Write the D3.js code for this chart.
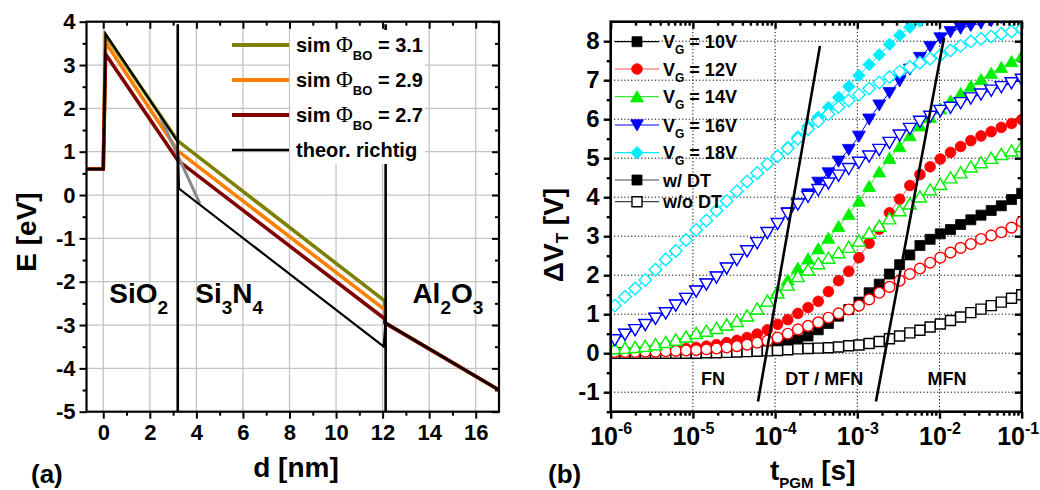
<!DOCTYPE html>
<html><head><meta charset="utf-8">
<script src="https://cdn.jsdelivr.net/npm/d3@7"></script>
<style>
body{margin:0;background:#fff}
svg{display:block}
text{font-family:"Liberation Sans",Arial,sans-serif;font-weight:bold;fill:#000}
</style>
</head><body>
<svg id="c" width="1040" height="490"></svg>
<script>
// ================= Panel (a) data =================
const aXTicks = [0, 2, 4, 6, 8, 10, 12, 14, 16];
const aYTicks = [-5, -4, -3, -2, -1, 0, 1, 2, 3, 4];
const aSimD   = [-0.72, 0, 0.1, 3.2, 12.1, 12.1, 17];
const aSim31  = [0.6, 0.6, 3.68, 1.25, -2.45, -2.95, -4.5];
const aSim29  = [0.6, 0.6, 3.52, 1.02, -2.65, -2.95, -4.5];
const aSim27  = [0.6, 0.6, 3.25, 0.80, -2.86, -2.95, -4.5];
const aTheoD  = [-0.72, 0, 0.1, 3.2, 3.25, 12.05, 12.12, 17];
const aTheoE  = [0.6, 0.6, 3.72, 1.23, 0.15, -3.5, -2.95, -4.5];
const aGreyD  = [2.45, 4.15];
const aGreyE  = [1.8, -0.2];
const aInterfaces = [3.2, 12.13];
const aLegendVals = ["3.1", "2.9", "2.7"];

// ================= Panel (b) data =================
const bXTickExp = [-6, -5, -4, -3, -2, -1];
const bYTicks = [-1, 0, 1, 2, 3, 4, 5, 6, 7, 8];
const bLogT = [-5.95,-5.826,-5.703,-5.579,-5.455,-5.331,-5.208,-5.084,-4.96,-4.836,-4.713,-4.589,-4.465,-4.341,-4.218,-4.094,-3.97,-3.846,-3.723,-3.599,-3.475,-3.351,-3.228,-3.104,-2.98,-2.856,-2.733,-2.609,-2.485,-2.361,-2.238,-2.114,-1.99,-1.866,-1.743,-1.619,-1.495,-1.371,-1.248,-1.124,-1.0];
const v10w = [0.01,0.01,0.01,0.01,0.02,0.02,0.02,0.03,0.03,0.04,0.05,0.06,0.08,0.10,0.13,0.17,0.21,0.26,0.34,0.44,0.60,0.76,0.95,1.12,1.31,1.55,1.77,2.03,2.27,2.52,2.76,2.92,3.06,3.17,3.30,3.42,3.54,3.66,3.78,3.94,4.10];
const v10o = [0,0,0,0,0,0,0,0,0,0.01,0.01,0.02,0.03,0.04,0.05,0.06,0.07,0.09,0.11,0.12,0.13,0.14,0.16,0.19,0.21,0.25,0.30,0.37,0.44,0.52,0.59,0.67,0.75,0.84,0.93,1.04,1.13,1.22,1.31,1.41,1.50];
const v12w = [0.04,0.05,0.05,0.06,0.07,0.08,0.10,0.12,0.15,0.18,0.22,0.27,0.33,0.40,0.49,0.60,0.74,0.86,1.02,1.17,1.33,1.58,1.86,2.10,2.45,2.82,3.18,3.60,3.95,4.30,4.58,4.78,4.98,5.15,5.30,5.45,5.57,5.68,5.79,5.89,5.99];
const v12o = [0.03,0.03,0.03,0.04,0.04,0.05,0.06,0.07,0.08,0.10,0.12,0.15,0.18,0.22,0.27,0.32,0.40,0.50,0.61,0.70,0.79,0.91,1.02,1.12,1.22,1.38,1.55,1.70,1.86,2.03,2.17,2.32,2.45,2.58,2.70,2.80,2.93,3.02,3.10,3.22,3.37];
const v14w = [0.12,0.13,0.15,0.18,0.22,0.28,0.34,0.42,0.51,0.57,0.64,0.73,0.82,0.96,1.14,1.34,1.60,1.88,2.18,2.42,2.68,2.95,3.25,3.56,3.90,4.28,4.65,5.00,5.30,5.58,5.83,6.05,6.27,6.47,6.66,6.85,7.02,7.18,7.33,7.48,7.62];
const v14o = [0.12,0.13,0.15,0.18,0.22,0.28,0.34,0.42,0.51,0.57,0.64,0.73,0.82,0.96,1.14,1.34,1.55,1.75,1.97,2.14,2.30,2.44,2.58,2.72,2.88,3.08,3.26,3.45,3.66,3.83,4.01,4.19,4.33,4.50,4.63,4.78,4.89,5.00,5.10,5.19,5.30];
const v16w = [0.34,0.48,0.60,0.73,0.89,1.03,1.23,1.40,1.59,1.77,1.95,2.18,2.40,2.62,2.83,3.09,3.32,3.60,3.82,4.08,4.38,4.62,4.92,5.22,5.56,6.00,6.36,6.68,6.98,7.28,7.58,7.86,8.08,8.24,8.33,8.40,8.46,8.52,8.60,null,null];
const v16o = [0.34,0.48,0.60,0.73,0.89,1.03,1.23,1.40,1.59,1.77,1.95,2.18,2.40,2.62,2.83,3.09,3.32,3.58,3.82,4.02,4.19,4.36,4.56,4.73,4.89,5.05,5.22,5.40,5.59,5.76,5.94,6.07,6.22,6.30,6.42,6.54,6.64,6.74,6.83,6.93,7.02];
const v18w = [1.22,1.45,1.66,1.88,2.14,2.40,2.62,2.90,3.16,3.40,3.66,3.90,4.15,4.40,4.62,4.85,5.05,5.28,5.55,5.82,6.05,6.30,6.56,6.84,7.12,7.40,7.65,7.92,8.15,8.36,8.52,8.66,null,null,null,null,null,null,null,null,null];
const v18o = [1.22,1.45,1.66,1.88,2.14,2.40,2.62,2.90,3.16,3.40,3.66,3.90,4.15,4.40,4.62,4.85,5.05,5.25,5.50,5.75,5.95,6.13,6.31,6.48,6.63,6.79,6.94,7.08,7.22,7.34,7.45,7.55,7.64,7.76,7.88,7.99,8.06,8.12,8.19,8.25,8.31];
const bLegendLabels = ["10V", "12V", "14V", "16V", "18V"];
const bBoundary1 = [[-4.208, -1.24], [-3.454, 7.88]];
const bBoundary2 = [[-2.773, -1.24], [-1.945, 8.09]];
const bRegions = [["FN", -4.755], ["DT / MFN", -3.403], ["MFN", -1.91]];

// ================= drawing =================
const svg = d3.select('#c');
const FONT = '"Liberation Sans",Arial,sans-serif';

function styleAxis(g, fs, sw) {
  g.attr('font-family', FONT).attr('font-size', fs);
  g.select('.domain').remove();
  g.selectAll('line').attr('stroke', '#000').attr('stroke-width', sw);
  g.selectAll('text').attr('font-weight', 'bold').attr('fill', '#000');
}

// ---------- Panel A ----------
const A = {l: 86.5, r: 499, t: 21.7, b: 411.7};
const xA = d3.scaleLinear().domain([-0.72, 17]).range([A.l, A.r]);
const yA = d3.scaleLinear().domain([-5, 4]).range([A.b, A.t]);
const gA = svg.append('g');

// grid
gA.append('g').selectAll('line').data(aXTicks).join('line')
  .attr('x1', d => xA(d)).attr('x2', d => xA(d)).attr('y1', A.t).attr('y2', A.b)
  .attr('stroke', '#c4c4c4').attr('stroke-width', 1.3);
gA.append('g').selectAll('line').data(aYTicks.filter(d => d > -5 && d < 4)).join('line')
  .attr('y1', d => yA(d)).attr('y2', d => yA(d)).attr('x1', A.l).attr('x2', A.r)
  .attr('stroke', '#c4c4c4').attr('stroke-width', 1.3);

const xMinorA = d3.range(-0, 17, 1).filter(d => d % 2 !== 0);
const yMinorA = d3.range(-4.5, 4, 1);

// axes
const axB = gA.append('g').attr('transform', `translate(0,${A.b})`)
  .call(d3.axisBottom(xA).tickValues(aXTicks).tickSize(7).tickPadding(6).tickFormat(d => d));
styleAxis(axB, 22, 2);
const axBm = gA.append('g').attr('transform', `translate(0,${A.b})`)
  .call(d3.axisBottom(xA).tickValues(xMinorA).tickSize(4).tickFormat(''));
styleAxis(axBm, 22, 2);
const axT = gA.append('g').attr('transform', `translate(0,${A.t})`)
  .call(d3.axisTop(xA).tickValues(aXTicks).tickSize(-7).tickFormat(''));
styleAxis(axT, 22, 2);
const axTm = gA.append('g').attr('transform', `translate(0,${A.t})`)
  .call(d3.axisTop(xA).tickValues(xMinorA).tickSize(-4).tickFormat(''));
styleAxis(axTm, 22, 2);
const axL = gA.append('g').attr('transform', `translate(${A.l},0)`)
  .call(d3.axisLeft(yA).tickValues(aYTicks).tickSize(7).tickPadding(4).tickFormat(d => String(d)));
styleAxis(axL, 22, 2);
const axLm = gA.append('g').attr('transform', `translate(${A.l},0)`)
  .call(d3.axisLeft(yA).tickValues(yMinorA).tickSize(4).tickFormat(''));
styleAxis(axLm, 22, 2);
const axR = gA.append('g').attr('transform', `translate(${A.r},0)`)
  .call(d3.axisRight(yA).tickValues(aYTicks).tickSize(-7).tickFormat(''));
styleAxis(axR, 22, 2);
const axRm = gA.append('g').attr('transform', `translate(${A.r},0)`)
  .call(d3.axisRight(yA).tickValues(yMinorA).tickSize(-4).tickFormat(''));
styleAxis(axRm, 22, 2);

// layer labels
function subLabel(g, x, y, parts, fs, sfs, sdy) {
  const t = g.append('text').attr('x', x).attr('y', y).attr('font-size', fs);
  let down = false;
  parts.forEach((p, i) => {
    const isSub = i % 2 === 1;
    const ts = t.append('tspan').text(p);
    if (isSub) { ts.attr('font-size', sfs).attr('dy', sdy); down = true; }
    else if (down) { ts.attr('dy', -sdy); down = false; }
  });
  return t;
}
subLabel(gA, xA(0.26), yA(-2.49), ['SiO', '2'], 28, 19, 11);
subLabel(gA, xA(3.95), yA(-2.49), ['Si', '3', 'N', '4'], 28, 19, 11);
subLabel(gA, xA(13.28), yA(-2.49), ['Al', '2', 'O', '3'], 28, 19, 11);

// data lines
const lineA = d3.line().x(d => xA(d[0])).y(d => yA(d[1]));
const simSeries = [[aSim27, '#800000'], [aSim29, '#ff8000'], [aSim31, '#808000']];
simSeries.slice().reverse().forEach(([vals, col]) => {
  gA.append('path').attr('d', lineA(aSimD.map((d, i) => [d, vals[i]])))
    .attr('fill', 'none').attr('stroke', col).attr('stroke-width', 3.6).attr('stroke-linejoin', 'miter');
});
gA.append('path').attr('d', lineA(aGreyD.map((d, i) => [d, aGreyE[i]])))
  .attr('fill', 'none').attr('stroke', '#8a8a8a').attr('stroke-width', 3);
gA.append('path').attr('d', lineA(aTheoD.map((d, i) => [d, aTheoE[i]])))
  .attr('fill', 'none').attr('stroke', '#000').attr('stroke-width', 2.2);
// interface lines
gA.append('g').selectAll('line').data(aInterfaces).join('line')
  .attr('x1', d => xA(d)).attr('x2', d => xA(d)).attr('y1', yA(3.94)).attr('y2', A.b)
  .attr('stroke', '#000').attr('stroke-width', 2.6);

// legend A
gA.append('rect').attr('x', 290).attr('y', 30).attr('width', 135).attr('height', 134).attr('fill', '#fff');
const legRowsA = [45, 80, 115, 150];
const legColsA = ['#808000', '#ff8000', '#800000', '#000'];
legRowsA.forEach((ry, i) => {
  gA.append('line').attr('x1', 232).attr('x2', 289).attr('y1', ry).attr('y2', ry)
    .attr('stroke', legColsA[i]).attr('stroke-width', i < 3 ? 4 : 2.5);
  const t = gA.append('text').attr('x', 296).attr('y', ry + 7).attr('font-size', 20);
  if (i < 3) {
    t.append('tspan').text('sim ');
    t.append('tspan').attr('font-family', '"Liberation Serif","Times New Roman",serif').attr('font-weight', 'normal').attr('font-size', 23).text('Φ');
    t.append('tspan').attr('font-size', 13).attr('dy', 8).text('BO');
    t.append('tspan').attr('dy', -8).text(' = ' + aLegendVals[i]);
  } else {
    t.text('theor. richtig');
  }
});

// frame A
gA.append('rect').attr('x', A.l).attr('y', A.t).attr('width', A.r - A.l).attr('height', A.b - A.t)
  .attr('fill', 'none').attr('stroke', '#000').attr('stroke-width', 2.2);

// titles A
svg.append('text').attr('x', 296).attr('y', 477).attr('text-anchor', 'middle').attr('font-size', 28).text('d [nm]');
svg.append('text').attr('transform', 'translate(36,232) rotate(-90)').attr('text-anchor', 'middle').attr('font-size', 28).text('E [eV]');
svg.append('text').attr('x', 31).attr('y', 483).attr('font-size', 26).text('(a)');

// ---------- Panel B ----------
const B = {l: 610.7, r: 1021.7, t: 21.7, b: 411.7};
const xB = d3.scaleLog().domain([1e-6, 1e-1]).range([B.l, B.r]);
const yB = d3.scaleLinear().domain([-1.5, 8.5]).range([B.b, B.t]);
const gB = svg.append('g');
const bMajor = bXTickExp.map(e => Math.pow(10, e));
const bMinor = [];
bXTickExp.slice(0, -1).forEach(e => { for (let m = 2; m <= 9; m++) bMinor.push(m * Math.pow(10, e)); });
const yMinorB = d3.range(-1.5, 8.5, 1);

// dotted grid
gB.append('g').selectAll('line').data(bMajor.slice(1, -1)).join('line')
  .attr('x1', d => xB(d)).attr('x2', d => xB(d)).attr('y1', B.t).attr('y2', B.b)
  .attr('stroke', '#000').attr('stroke-width', 1).attr('stroke-dasharray', '1.2,2.2');
gB.append('g').selectAll('line').data(bYTicks).join('line')
  .attr('y1', d => yB(d)).attr('y2', d => yB(d)).attr('x1', B.l).attr('x2', B.r)
  .attr('stroke', '#000').attr('stroke-width', 1).attr('stroke-dasharray', '1.2,2.2');

const bxB = gB.append('g').attr('transform', `translate(0,${B.b})`)
  .call(d3.axisBottom(xB).tickValues(bMajor).tickSize(7).tickPadding(9).tickFormat(''));
styleAxis(bxB, 25, 2.4);
bxB.selectAll('.tick text').each(function (d, i) {
  const t = d3.select(this).attr('text-anchor', 'middle');
  if (i === bMajor.length - 1) t.attr('x', -4);
  t.append('tspan').text('10');
  t.append('tspan').attr('font-size', 16).attr('dy', -11).text('-' + Math.abs(Math.round(Math.log10(d))));
});
const bxBm = gB.append('g').attr('transform', `translate(0,${B.b})`)
  .call(d3.axisBottom(xB).tickValues(bMinor).tickSize(4).tickFormat(''));
styleAxis(bxBm, 25, 2.4);
const bxT = gB.append('g').attr('transform', `translate(0,${B.t})`)
  .call(d3.axisTop(xB).tickValues(bMajor).tickSize(-7).tickFormat(''));
styleAxis(bxT, 25, 2.4);
const bxTm = gB.append('g').attr('transform', `translate(0,${B.t})`)
  .call(d3.axisTop(xB).tickValues(bMinor).tickSize(-4).tickFormat(''));
styleAxis(bxTm, 25, 2.4);
const byL = gB.append('g').attr('transform', `translate(${B.l},0)`)
  .call(d3.axisLeft(yB).tickValues(bYTicks).tickSize(7).tickPadding(4).tickFormat(d => String(d)));
styleAxis(byL, 24, 2.4);
const byLm = gB.append('g').attr('transform', `translate(${B.l},0)`)
  .call(d3.axisLeft(yB).tickValues(yMinorB).tickSize(4).tickFormat(''));
styleAxis(byLm, 24, 2.4);
const byR = gB.append('g').attr('transform', `translate(${B.r},0)`)
  .call(d3.axisRight(yB).tickValues(bYTicks).tickSize(-7).tickFormat(''));
styleAxis(byR, 24, 2.4);
const byRm = gB.append('g').attr('transform', `translate(${B.r},0)`)
  .call(d3.axisRight(yB).tickValues(yMinorB).tickSize(-4).tickFormat(''));
styleAxis(byRm, 24, 2.4);

// clip
svg.append('defs').append('clipPath').attr('id', 'clipB')
  .append('rect').attr('x', B.l).attr('y', B.t).attr('width', B.r - B.l).attr('height', B.b - B.t);
const plotB = gB.append('g').attr('clip-path', 'url(#clipB)');

// symbols
const symSquare = d3.symbol().type(d3.symbolSquare).size(100)();
const symCircle = d3.symbol().type(d3.symbolCircle).size(90)();
const symTri = d3.symbol().type(d3.symbolTriangle).size(72)();
const symDiamond = d3.symbol().type(d3.symbolSquare).size(78)();
const shapeDefs = {
  sq: {p: symSquare, rot: 0, dy: 0},
  ci: {p: symCircle, rot: 0, dy: 0},
  tu: {p: symTri, rot: 0, dy: 1.5},
  td: {p: symTri, rot: 180, dy: -1.5},
  di: {p: symDiamond, rot: 45, dy: 0}
};
const seriesB = [
  {v: v10w, shape: 'sq', col: '#000', line: '#000', filled: true},
  {v: v10o, shape: 'sq', col: '#000', line: '#333', filled: false},
  {v: v12w, shape: 'ci', col: '#ff0000', line: '#ff5050', filled: true},
  {v: v12o, shape: 'ci', col: '#ff0000', line: '#ff5050', filled: false},
  {v: v14w, shape: 'tu', col: '#00f000', line: '#33e633', filled: true},
  {v: v14o, shape: 'tu', col: '#00f000', line: '#33e633', filled: false},
  {v: v16w, shape: 'td', col: '#0000ff', line: '#0000ff', filled: true},
  {v: v16o, shape: 'td', col: '#0000ff', line: '#0000ff', filled: false},
  {v: v18w, shape: 'di', col: '#00eeff', line: '#00eeff', filled: true},
  {v: v18o, shape: 'di', col: '#00eeff', line: '#00eeff', filled: false}
];
const lineB = d3.line().defined(d => d[1] !== null).x(d => xB(Math.pow(10, d[0]))).y(d => yB(d[1]));
function drawMarker(g, x, y, s) {
  const sd = shapeDefs[s.shape];
  g.append('path').attr('d', sd.p)
    .attr('transform', `translate(${x},${y + sd.dy}) rotate(${sd.rot})`)
    .attr('fill', s.filled ? s.col : '#fff')
    .attr('stroke', s.col).attr('stroke-width', s.filled ? 0.8 : 1.4);
}
seriesB.forEach(s => {
  const pts = bLogT.map((lt, i) => [lt, s.v[i]]);
  plotB.append('path').attr('d', lineB(pts)).attr('fill', 'none')
    .attr('stroke', s.line).attr('stroke-width', 1);
  const mg = plotB.append('g');
  pts.filter(p => p[1] !== null).forEach(p => drawMarker(mg, xB(Math.pow(10, p[0])), yB(p[1]), s));
});

// regime boundaries
[bBoundary1, bBoundary2].forEach(seg => {
  plotB.append('path').attr('d', lineB(seg)).attr('fill', 'none').attr('stroke', '#000').attr('stroke-width', 2.6);
});
bRegions.forEach(([lab, lt]) => {
  gB.append('text').attr('x', xB(Math.pow(10, lt))).attr('y', yB(-0.66) + 6.5)
    .attr('text-anchor', 'middle').attr('font-size', 18).text(lab);
});

// legend B
const legRowsB = [41.7, 69, 96.7, 125, 152.7, 180, 201.7];
const legSeries = [seriesB[0], seriesB[2], seriesB[4], seriesB[6], seriesB[8],
  {shape: 'sq', col: '#000', line: '#444', filled: true},
  {shape: 'sq', col: '#000', line: '#444', filled: false}];
legRowsB.forEach((ry, i) => {
  const s = legSeries[i];
  gB.append('line').attr('x1', 615).attr('x2', 659).attr('y1', ry).attr('y2', ry)
    .attr('stroke', s.line).attr('stroke-width', 1.2);
  drawMarker(gB, 637, ry, s);
  const t = gB.append('text').attr('x', 663).attr('y', ry + 6.5).attr('font-size', 18);
  if (i < 5) {
    t.append('tspan').text('V');
    t.append('tspan').attr('font-size', 12).attr('dy', 6).text('G');
    t.append('tspan').attr('dy', -6).text(' = ' + bLegendLabels[i]);
  } else {
    t.text(i === 5 ? 'w/ DT' : 'w/o DT');
  }
});

// frame B
gB.append('rect').attr('x', B.l).attr('y', B.t).attr('width', B.r - B.l).attr('height', B.b - B.t)
  .attr('fill', 'none').attr('stroke', '#000').attr('stroke-width', 2.6);

// titles B
const tx = svg.append('text').attr('x', 770).attr('y', 480).attr('font-size', 28);
tx.append('tspan').text('t');
tx.append('tspan').attr('font-size', 15).attr('dy', 8).text('PGM');
tx.append('tspan').attr('dy', -8).text(' [s]');
const ty = svg.append('text').attr('transform', 'translate(563,235) rotate(-90)').attr('text-anchor', 'middle').attr('font-size', 28);
ty.append('tspan').text('ΔV');
ty.append('tspan').attr('font-size', 17).attr('dy', 5).text('T');
ty.append('tspan').attr('dy', -5).text(' [V]');
svg.append('text').attr('x', 548).attr('y', 483).attr('font-size', 26).text('(b)');
</script>
</body></html>
